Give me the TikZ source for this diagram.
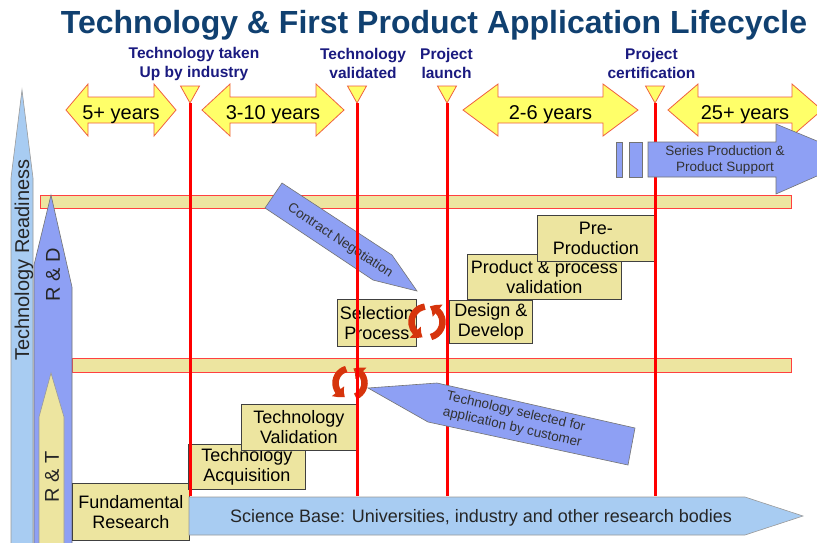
\documentclass[tikz,border=0pt]{standalone}
\usepackage{fontspec}
\setmainfont{Liberation Sans}
\usetikzlibrary{arrows.meta,bending,calc}

\definecolor{titleblue}{RGB}{16,64,112}
\definecolor{navy}{RGB}{26,26,128}
\definecolor{khaki}{RGB}{237,229,160}
\definecolor{sky}{RGB}{168,204,242}
\definecolor{peri}{RGB}{142,160,244}
\definecolor{lemon}{RGB}{255,255,105}
\definecolor{rim}{RGB}{240,96,64}
\definecolor{cyc}{RGB}{214,52,12}

% double-headed yellow span arrow with its label
\newcommand\yearspan[6]{%
  \draw[spanarrow] (#2,110) -- (#3,84) -- (#3,97) -- (#4,97) -- (#4,84) -- (#5,110)
    -- (#4,136) -- (#4,123) -- (#3,123) -- (#3,136) -- cycle;
  \node[yearlabel, anchor=base] (#1) at ({(#2+#5)/2},119) {#6};}

\begin{document}
\begin{tikzpicture}[x=1pt,y=-1pt,
  spanarrow/.style={fill=lemon, draw=rim, line width=0.8pt, line join=miter},
  yearlabel/.style={inner sep=0pt, font=\fontsize{20}{24}\selectfont, text=black},
  milestone/.style={fill=lemon, draw=rim, line width=0.8pt},
  mslabel/.style={inner sep=0pt, align=center, text=navy,
    font=\fontsize{15.5}{19}\selectfont\bfseries},
  redline/.style={draw=red, line width=3pt},
  band/.style={fill=khaki, draw=red!75, line width=0.7pt},
  stagebox/.style={draw=black!75, fill=khaki, line width=0.8pt, inner sep=0pt,
    align=center, anchor=north west, font=\fontsize{18}{20}\selectfont},
  skyshape/.style={fill=sky, draw=black!40, line width=0.6pt},
  perishape/.style={fill=peri, draw=black!55, line width=0.6pt},
  khakishape/.style={fill=khaki, draw=black!40, line width=0.6pt},
  sidelabel/.style={inner sep=0pt, font=\fontsize{20}{24}\selectfont, text=black!85},
  arrowtext/.style={inner sep=0pt, align=center, text=black!80,
    font=\fontsize{13.5}{16}\selectfont},
  cyclearrow/.style={draw=cyc, line width=6.5pt,
    -{Triangle[bend, width=15pt, length=9pt]}}
]
\useasboundingbox (0,0) rectangle (817,542);
\clip (0,0) rectangle (817,542);
\fill[white] (0,0) rectangle (817,542);

% title and milestone captions
\node[anchor=base, inner sep=0pt, text=titleblue, font=\fontsize{32}{36}\selectfont\bfseries]
  (title) at (434,33) {Technology \& First Product Application Lifecycle};
\node[mslabel] (lab1) at (194,64) {Technology taken\\Up by industry};
\node[mslabel] (lab2) at (363,63) {Technology\\validated};
\node[mslabel] (lab3) at (446.5,63) {Project\\launch};
\node[mslabel] (lab4) at (651.5,63) {Project\\certification};

% horizontal readiness bands
\draw[band] (40,195) rectangle (791,208);
\draw[band] (72,358) rectangle (791,372);

% vertical readiness arrows on the left
\draw[skyshape] (22,90) -- (33,178) -- (33,545) -- (11,545) -- (11,178) -- cycle;
\node[sidelabel, rotate=90] (readiness) at (24,260) {Technology Readiness};
\draw[perishape] (51,195) -- (72,287) -- (72,545) -- (34,545) -- (34,265) -- cycle;
\node[sidelabel, rotate=90] (rd) at (53,275) {R \& D};
\draw[khakishape] (51,373) -- (64,417) -- (64,545) -- (39,545) -- (39,417) -- cycle;
\node[sidelabel, rotate=90] (rt) at (52,477) {R \& T};

% time spans
\yearspan{span1}{66}{88}{154}{176}{5+ years}
\yearspan{span2}{202}{230}{316}{344}{3-10 years}
\yearspan{span3}{463}{498}{603}{638}{2-6 years}
\yearspan{span4}{668}{698}{792}{822}{25+ years}

% milestone markers
\coordinate (m1) at (190,103);   \coordinate (b1) at (190,496);
\coordinate (m2) at (357,103);   \coordinate (b2) at (357,496);
\coordinate (m3) at (447,103);   \coordinate (b3) at (447,496);
\coordinate (m4) at (655,103);   \coordinate (b4) at (655,496);
\foreach \m in {m1,m2,m3,m4}
  \draw[milestone] (\m) -- ++(-9.5,-17) -- ++(19,0) -- cycle;

% stage boxes
\node[stagebox, minimum width=117pt, minimum height=57pt] (fund) at (72,483) {Fundamental\\Research};
\node[stagebox, minimum width=117pt, minimum height=45pt] (acq) at (188,444) {Technology\\Acquisition};
\node[stagebox, minimum width=115pt, minimum height=46pt] (val) at (241,404) {Technology\\Validation};
\node[stagebox, minimum width=79pt, minimum height=47pt] (sel) at (337,299) {Selection\\Process};
\node[stagebox, minimum width=83pt, minimum height=43pt] (dd) at (449,300) {Design \&\\Develop};
\node[stagebox, minimum width=154pt, minimum height=45pt] (ppv) at (467,254) {Product \& process\\validation};
\node[stagebox, minimum width=117pt, minimum height=46pt] (pre) at (537,215) {Pre-\\Production};

% science base arrow
\draw[skyshape] (189,497) -- (745,497) -- (803,516) -- (745,535) -- (189,535) -- cycle;
\node[anchor=base, inner sep=0pt, font=\fontsize{18}{20}\selectfont, text=black!85]
  (sci) at (481,522) {Science Base: Universities, industry and other research bodies};

% contract negotiation arrow
\draw[perishape] (282,183) -- (392,255) -- (417,291) -- (373,280) -- (265,208) -- cycle;
\node[arrowtext, rotate=-33.6] (contract) at (340,241) {Contract Negotiation};

% iteration cycles
\coordinate (c1) at (427,322);
\draw[cyclearrow] ($(c1)+(262:15.5)$) arc[start angle=262, end angle=106, radius=15.5];
\draw[cyclearrow] ($(c1)+(75:15.5)$) arc[start angle=75, end angle=-80, radius=15.5];
\coordinate (c2) at (350,383);
\draw[cyclearrow] ($(c2)+(255:14.5)$) arc[start angle=255, end angle=110, radius=14.5];
\draw[cyclearrow] ($(c2)+(68:14.5)$) arc[start angle=68, end angle=-77, radius=14.5];

% milestone lines
\draw[redline] (m1) -- (b1);
\draw[redline] (m2) -- (b2);
\draw[redline] (m3) -- (b3);
\draw[redline] (m4) -- (b4);

% customer selection arrow
\draw[perishape] (368,388) -- (437,383) -- (635,428) -- (628,465) -- (428,422) -- cycle;
\node[arrowtext, rotate=-12.8] (selected) at (514,420) {Technology selected for\\application by customer};

% series production arrow
\draw[perishape] (616,142) rectangle (622,177);
\draw[perishape] (629,142) rectangle (642,177);
\draw[perishape] (648,142) -- (776,142) -- (776,124) -- (858,158) -- (776,194) -- (776,177) -- (648,177) -- cycle;
\node[arrowtext] (series) at (725,160) {Series Production \&\\Product Support};
\end{tikzpicture}
\end{document}
